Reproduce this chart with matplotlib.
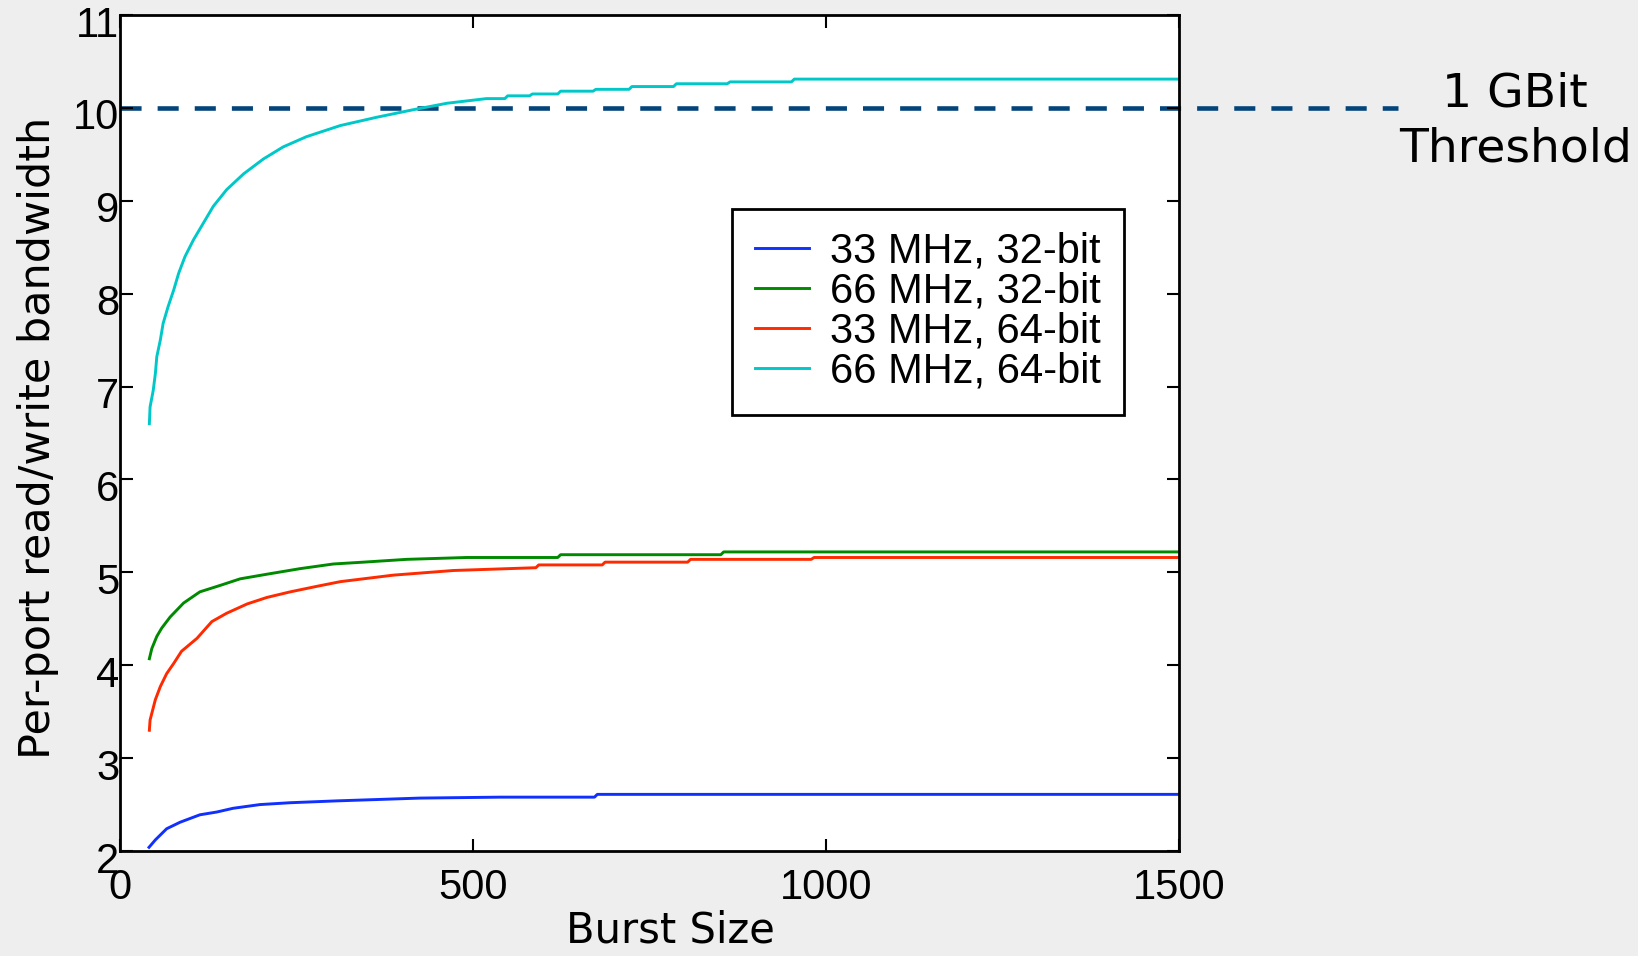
import matplotlib
matplotlib.use('Agg')
import matplotlib.pyplot as plt
from matplotlib.transforms import ScaledTranslation

# values
burst_33_32 = [41, 50, 66, 85, 113, 137, 160, 198, 241, 307, 425, 538, 672, 676, 1500]
bw_33_32 = [2.04, 2.12, 2.24, 2.31, 2.39, 2.42, 2.46, 2.50, 2.52, 2.54, 2.57, 2.58, 2.58, 2.61, 2.61]

burst_66_32 = [41.5, 45, 52, 59, 71, 90, 113, 142, 170, 208, 255, 302, 345, 406, 491, 620, 624, 851, 855, 1500]
bw_66_32 = [4.07, 4.18, 4.31, 4.40, 4.52, 4.67, 4.79, 4.86, 4.93, 4.98, 5.04, 5.09, 5.11, 5.14, 5.16, 5.16, 5.19,
            5.19, 5.22, 5.22]

burst_33_64 = [41.5, 42.5, 50, 57, 66, 76, 87, 109, 130, 151, 180, 208, 241, 279, 312, 387, 472, 589, 593, 683,
               687, 804, 808, 979, 983, 1500]
bw_33_64 = [3.30, 3.41, 3.63, 3.77, 3.91, 4.02, 4.15, 4.29, 4.47, 4.56, 4.66, 4.73, 4.79, 4.85, 4.90, 4.97, 5.02,
            5.05, 5.08, 5.08, 5.11, 5.11, 5.14, 5.14, 5.16, 5.16]

burst_66_64 = [41.5, 42.5, 47, 50, 52, 57, 61, 68, 76, 83, 92, 104, 118, 132, 151, 175, 203, 231, 264, 312,
               364, 415, 463, 519, 545, 549, 580, 584, 620, 624, 670, 674, 721, 725, 784, 788, 860, 864, 951, 955,
               1500]
bw_66_64 = [6.60, 6.78, 6.96, 7.14, 7.32, 7.50, 7.68, 7.86, 8.04, 8.22, 8.40, 8.58, 8.76, 8.94, 9.12, 9.29, 9.45,
            9.58, 9.69, 9.81, 9.90, 9.98, 10.05, 10.10, 10.10, 10.13, 10.13, 10.15, 10.15, 10.18, 10.18, 10.20,
            10.20, 10.23, 10.23, 10.26, 10.26, 10.28, 10.28, 10.31, 10.31]

labels = ['33 MHz, 32-bit', '66 MHz, 32-bit', '33 MHz, 64-bit', '66 MHz, 64-bit']
colors = ['#1030ff', '#008a00', '#ff2a00', '#00c8c8']

threshold = 10
threshold_x = [0, 1810]
xticks = [0, 500, 1000, 1500]
yticks = [2, 3, 4, 5, 6, 7, 8, 9, 10, 11]

fig = plt.figure(figsize=(16.38, 9.56), dpi=100, facecolor='#eeeeee')
ax = fig.add_axes([0.0733, 0.1098, 0.6465, 0.8745])
ax.set_facecolor('white')

series = [(burst_33_32, bw_33_32), (burst_66_32, bw_66_32), (burst_33_64, bw_33_64), (burst_66_64, bw_66_64)]
for (xs, ys), lab, col in zip(series, labels, colors):
    ax.plot(xs, ys, color=col, linewidth=2.1, label=lab)

# threshold line runs past the right edge of the axes
ax.plot(threshold_x, [threshold, threshold], color='#03457a', linewidth=3.3,
        dashes=(4.6, 3.5), clip_on=False, zorder=1)

ax.set_xlim(0, 1500)
ax.set_ylim(2, 11)
ax.set_xticks(xticks)
ax.set_yticks(yticks)

tick_font = 'Liberation Sans'
ax.tick_params(direction='in', length=9, width=1.5, top=True, right=True)
ax.tick_params(axis='x', pad=12)
ax.tick_params(axis='y', pad=0.5)
for lab in ax.get_xticklabels() + ax.get_yticklabels():
    lab.set_fontfamily(tick_font)
    lab.set_fontsize(30)
# y tick labels sit a little below their ticks
shift = ScaledTranslation(0, -6 / 100, fig.dpi_scale_trans)
for lab in ax.get_yticklabels():
    lab.set_transform(lab.get_transform() + shift)
for sp in ax.spines.values():
    sp.set_linewidth(2)

ax.set_xlabel('Burst Size', fontsize=30, family='DejaVu Sans')
ax.set_ylabel('Per-port read/write bandwidth', fontsize=31, family='DejaVu Sans')
ax.xaxis.set_label_coords(0.52, -0.07)
ax.yaxis.set_label_coords(-0.058, 0.494)

leg = ax.legend(loc='upper right', bbox_to_anchor=(0.948, 0.768), prop={'family': tick_font, 'size': 30},
                fancybox=False, edgecolor='black', framealpha=1, handlelength=1.3, handletextpad=0.5,
                labelspacing=0.0, borderpad=0.55, borderaxespad=0)
leg.get_frame().set_linewidth(2)

fig.text(0.925, 0.8727, '1 GBit\nThreshold', ha='center', va='center', fontsize=34,
         family='DejaVu Sans', multialignment='center', linespacing=1.3)

plt.savefig('out.png', dpi=100, facecolor=fig.get_facecolor())
